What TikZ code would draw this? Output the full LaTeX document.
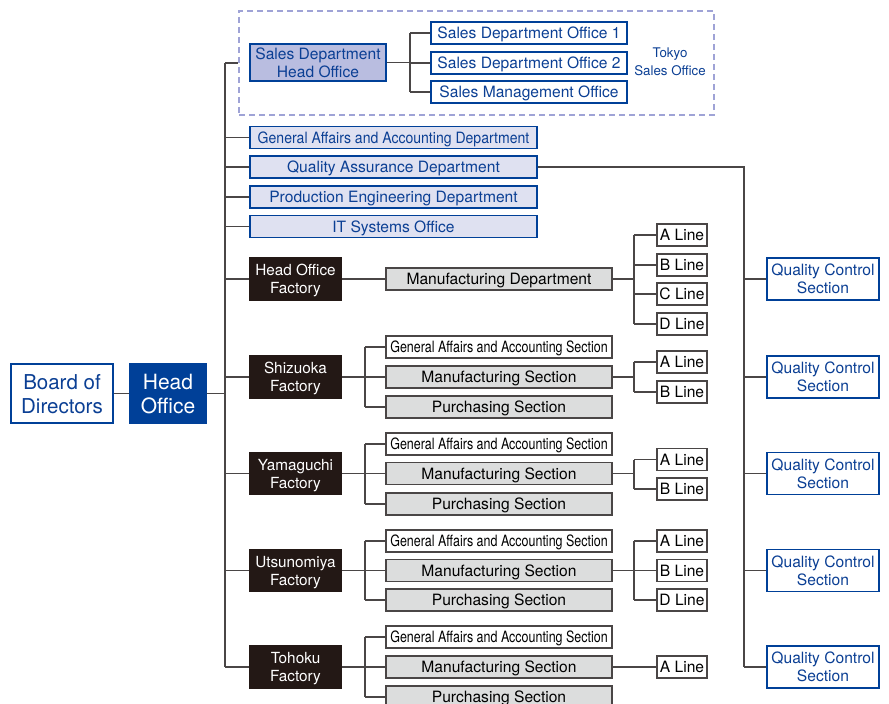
\documentclass[tikz,border=0pt]{standalone}
\usepackage{fontspec}
\setmainfont{TeX Gyre Heros}
\usepackage{tikz}

\definecolor{corpblue}{HTML}{004098}
\definecolor{textblue}{HTML}{0B3F94}
\definecolor{salesfill}{HTML}{B9BDE0}
\definecolor{deptfill}{HTML}{DFE1F1}
\definecolor{dashblue}{HTML}{9FA3D6}
\definecolor{factfill}{HTML}{231815}
\definecolor{sectfill}{HTML}{DCDDDD}
\definecolor{wire}{HTML}{4A4646}

\newcommand{\cond}[2]{\scalebox{#1}[1]{#2}}

\tikzset{
  box/.style={draw, line width=1.2pt, inner sep=0pt, align=center, text depth=0pt,
    font=\fontsize{15.6}{18}\selectfont},
  salesbox/.style={box, draw=corpblue, text=textblue, fill=white, minimum width=196pt, minimum height=22pt},
  saleshq/.style={box, draw=corpblue, text=textblue, fill=salesfill, minimum width=136pt, minimum height=37pt},
  deptbox/.style={box, draw=corpblue, text=textblue, fill=deptfill, minimum width=287pt, minimum height=22pt},
  factbox/.style={box, draw=factfill, text=white, fill=factfill, minimum width=91pt, minimum height=42pt,
    font=\fontsize{15.3}{18}\selectfont},
  sectbox/.style={box, draw=wire, text=black, fill=sectfill, minimum width=226pt, minimum height=22pt},
  gabox/.style={sectbox, fill=white},
  linebox/.style={box, draw=wire, text=black, fill=white, minimum width=50pt, minimum height=22pt},
  qcbox/.style={box, draw=corpblue, text=textblue, fill=white, minimum width=112pt, minimum height=42pt},
  conn/.style={draw=wire, line width=1.2pt},
}

\begin{document}
\begin{tikzpicture}[x=1pt,y=-1pt,line cap=butt,line join=miter]
\useasboundingbox (0,0) rectangle (889,704);

% top level
\node[box, draw=corpblue, text=textblue, fill=white, minimum width=102pt, minimum height=59pt,
  font=\fontsize{20.5}{24}\selectfont] (board) at (62,393.5) {Board of\\Directors};
\node[box, draw=corpblue, text=white, fill=corpblue, minimum width=76pt, minimum height=59pt,
  font=\fontsize{21}{24}\selectfont] (head) at (168,393.5) {Head\\Office};

\coordinate (trunktop) at (225,63);
\coordinate (trunkbot) at (225,667);
\coordinate (qcbus) at (744,667);
\coordinate (sbrk) at (365,0);
\coordinate (lbrk) at (634,0);
\coordinate (obrk) at (410,0);

% Tokyo sales office
\node[draw=dashblue, dashed, dash pattern=on 6pt off 4pt, line width=1.2pt,
  minimum width=475pt, minimum height=104pt, inner sep=0pt] (tokyo) at (476.5,63) {};
\node[saleshq] (saleshq) at (318,62.5) {Sales Department\\Head Office};
\node[salesbox] (office1) at (529,33) {Sales Department Office 1};
\node[salesbox] (office2) at (529,63) {Sales Department Office 2};
\node[salesbox] (salesmgmt) at (529,92) {Sales Management Office};
\node[text=textblue, align=center, text depth=0pt, font=\fontsize{13.3}{18}\selectfont] (tokyolbl) at (670,62) {Tokyo\\Sales Office};

% departments
\node[deptbox] (genacc) at (393.5,137.5) {\cond{0.9}{General Affairs and Accounting Department}};
\node[deptbox] (qa) at (393.5,167) {Quality Assurance Department};
\node[deptbox] (prodeng) at (393.5,197) {Production Engineering Department};
\node[deptbox] (itsys) at (393.5,226.5) {IT Systems Office};

% factories
\node[factbox] (hof) at (295.5,279) {Head Office\\Factory};
\node[factbox] (shiz) at (295.5,377) {Shizuoka\\Factory};
\node[factbox] (yama) at (295.5,473.5) {Yamaguchi\\Factory};
\node[factbox] (utsu) at (295.5,570.5) {Utsunomiya\\Factory};
\node[factbox] (toho) at (295.5,667) {Tohoku\\Factory};

% head office factory
\node[sectbox] (hofmfg) at (499,279) {Manufacturing Department};
\node[linebox] (hofa) at (682,235) {A Line};
\node[linebox] (hofb) at (682,265) {B Line};
\node[linebox] (hofc) at (682,294) {C Line};
\node[linebox] (hofd) at (682,324) {D Line};

% shizuoka
\node[gabox] (shizga) at (499,347) {\cond{0.8}{General Affairs and Accounting Section}};
\node[sectbox] (shizmfg) at (499,377) {Manufacturing Section};
\node[sectbox] (shizpur) at (499,407) {Purchasing Section};
\node[linebox] (shiza) at (682,362) {A Line};
\node[linebox] (shizb) at (682,392) {B Line};

% yamaguchi
\node[gabox] (yamaga) at (499,444) {\cond{0.8}{General Affairs and Accounting Section}};
\node[sectbox] (yamamfg) at (499,473.5) {Manufacturing Section};
\node[sectbox] (yamapur) at (499,504) {Purchasing Section};
\node[linebox] (yamaa) at (682,459.5) {A Line};
\node[linebox] (yamab) at (682,489) {B Line};

% utsunomiya
\node[gabox] (utsuga) at (499,541) {\cond{0.8}{General Affairs and Accounting Section}};
\node[sectbox] (utsumfg) at (499,570.5) {Manufacturing Section};
\node[sectbox] (utsupur) at (499,600) {Purchasing Section};
\node[linebox] (utsua) at (682,541) {A Line};
\node[linebox] (utsub) at (682,570.5) {B Line};
\node[linebox] (utsud) at (682,600) {D Line};

% tohoku
\node[gabox] (tohoga) at (499,637) {\cond{0.8}{General Affairs and Accounting Section}};
\node[sectbox] (tohomfg) at (499,667) {Manufacturing Section};
\node[sectbox] (tohopur) at (499,697) {Purchasing Section};
\node[linebox] (tohoa) at (682,667) {A Line};

% quality control
\node[qcbox] (qc1) at (823,279) {Quality Control\\Section};
\node[qcbox] (qc2) at (823,377) {Quality Control\\Section};
\node[qcbox] (qc3) at (823,473.5) {Quality Control\\Section};
\node[qcbox] (qc4) at (823,570.5) {Quality Control\\Section};
\node[qcbox] (qc5) at (823,667) {Quality Control\\Section};

% connectors
\begin{scope}[conn]
\draw (board) -- (head);
\draw (head.east) -- (head.east -| trunktop);
\draw (trunktop) -- (trunkbot);
\draw (trunktop) -- (tokyo.west);
\draw (genacc.west) -- (genacc.west -| trunktop);
\draw (qa.west) -- (qa.west -| trunktop);
\draw (prodeng.west) -- (prodeng.west -| trunktop);
\draw (itsys.west) -- (itsys.west -| trunktop);
\draw (hof.west) -- (hof.west -| trunktop);
\draw (shiz.west) -- (shiz.west -| trunktop);
\draw (yama.west) -- (yama.west -| trunktop);
\draw (utsu.west) -- (utsu.west -| trunktop);
\draw (toho.west) -- (toho.west -| trunktop);

\draw (saleshq.east) -- (saleshq.east -| obrk);
\draw (office1.west -| obrk) -- (salesmgmt.west -| obrk);
\draw (office1.west) -- (office1.west -| obrk);
\draw (office2.west) -- (office2.west -| obrk);
\draw (salesmgmt.west) -- (salesmgmt.west -| obrk);

\draw (qa.east) -| (qcbus);
\draw (qc1.west) -- (qc1.west -| qcbus);
\draw (qc2.west) -- (qc2.west -| qcbus);
\draw (qc3.west) -- (qc3.west -| qcbus);
\draw (qc4.west) -- (qc4.west -| qcbus);
\draw (qc5.west) -- (qc5.west -| qcbus);

\draw (hof) -- (hofmfg);
\draw (hofmfg.east) -- (hofmfg.east -| lbrk);
\draw (hofa.west -| lbrk) -- (hofd.west -| lbrk);
\draw (hofa.west) -- (hofa.west -| lbrk);
\draw (hofb.west) -- (hofb.west -| lbrk);
\draw (hofc.west) -- (hofc.west -| lbrk);
\draw (hofd.west) -- (hofd.west -| lbrk);

\draw (shiz) -- (shizmfg);
\draw (shizga.west -| sbrk) -- (shizpur.west -| sbrk);
\draw (shizga.west) -- (shizga.west -| sbrk);
\draw (shizpur.west) -- (shizpur.west -| sbrk);
\draw (shizmfg.east) -- (shizmfg.east -| lbrk);
\draw (shiza.west -| lbrk) -- (shizb.west -| lbrk);
\draw (shiza.west) -- (shiza.west -| lbrk);
\draw (shizb.west) -- (shizb.west -| lbrk);

\draw (yama) -- (yamamfg);
\draw (yamaga.west -| sbrk) -- (yamapur.west -| sbrk);
\draw (yamaga.west) -- (yamaga.west -| sbrk);
\draw (yamapur.west) -- (yamapur.west -| sbrk);
\draw (yamamfg.east) -- (yamamfg.east -| lbrk);
\draw (yamaa.west -| lbrk) -- (yamab.west -| lbrk);
\draw (yamaa.west) -- (yamaa.west -| lbrk);
\draw (yamab.west) -- (yamab.west -| lbrk);

\draw (utsu) -- (utsumfg);
\draw (utsuga.west -| sbrk) -- (utsupur.west -| sbrk);
\draw (utsuga.west) -- (utsuga.west -| sbrk);
\draw (utsupur.west) -- (utsupur.west -| sbrk);
\draw (utsumfg.east) -- (utsumfg.east -| lbrk);
\draw (utsua.west -| lbrk) -- (utsud.west -| lbrk);
\draw (utsua.west) -- (utsua.west -| lbrk);
\draw (utsub.west) -- (utsub.west -| lbrk);
\draw (utsud.west) -- (utsud.west -| lbrk);

\draw (toho) -- (tohomfg);
\draw (tohoga.west -| sbrk) -- (tohopur.west -| sbrk);
\draw (tohoga.west) -- (tohoga.west -| sbrk);
\draw (tohopur.west) -- (tohopur.west -| sbrk);
\draw (tohomfg) -- (tohoa);
\end{scope}
\end{tikzpicture}
\end{document}
